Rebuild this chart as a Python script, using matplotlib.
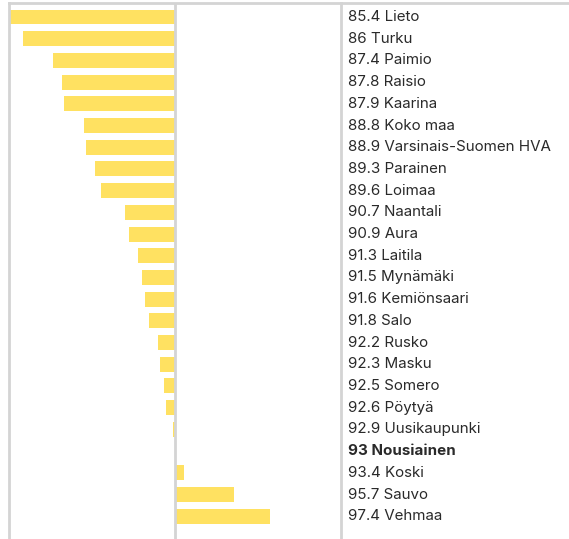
import matplotlib.pyplot as plt
from matplotlib.transforms import blended_transform_factory

names = ["Lieto", "Turku", "Paimio", "Raisio", "Kaarina", "Koko maa",
         "Varsinais-Suomen HVA", "Parainen", "Loimaa", "Naantali", "Aura",
         "Laitila", "Mynämäki", "Kemiönsaari", "Salo", "Rusko", "Masku",
         "Somero", "Pöytyä", "Uusikaupunki", "Nousiainen", "Koski", "Sauvo",
         "Vehmaa"]
values = [85.4, 86, 87.4, 87.8, 87.9, 88.8, 88.9, 89.3, 89.6, 90.7, 90.9,
          91.3, 91.5, 91.6, 91.8, 92.2, 92.3, 92.5, 92.6, 92.9, 93, 93.4,
          95.7, 97.4]
labels = ["85.4", "86", "87.4", "87.8", "87.9", "88.8", "88.9", "89.3", "89.6",
          "90.7", "90.9", "91.3", "91.5", "91.6", "91.8", "92.2", "92.3",
          "92.5", "92.6", "92.9", "93", "93.4", "95.7", "97.4"]
base = 93
highlight = "Nousiainen"

W, H = 569, 539
fig = plt.figure(figsize=(W / 100, H / 100), dpi=100)
ax = fig.add_axes([9 / W, 0, (341 - 9) / W, (H - 3) / H])

ys = list(range(len(names)))
ax.barh(ys, [v - base for v in values], left=base, height=0.69,
        color="#ffe161", zorder=2)

ax.set_xlim(base - 7.65, base + 7.65)
ax.set_ylim(24.05, -0.645)
ax.axvline(base, color="#d4d4d4", lw=2, zorder=3)
for s in ["top", "bottom"]:
    ax.spines[s].set_visible(False)
for s in ["left", "right"]:
    ax.spines[s].set_color("#d4d4d4")
    ax.spines[s].set_linewidth(2)
ax.set_xticks([])
ax.set_yticks([])

# top border across the whole width
fig.add_artist(plt.Line2D([9 / W, 1], [(H - 3) / H, (H - 3) / H],
                          color="#d4d4d4", lw=2))

tr = blended_transform_factory(fig.transFigure, ax.transData)
for y, n, lab in zip(ys, names, labels):
    bold = n == highlight
    ax.text(348 / W, y, f"{lab} {n}", transform=tr, va="center", ha="left",
            fontsize=10.9, family="Inter", color="#2a2a2a",
            fontweight="bold" if bold else "normal")

fig.savefig("out.png", dpi=100)
